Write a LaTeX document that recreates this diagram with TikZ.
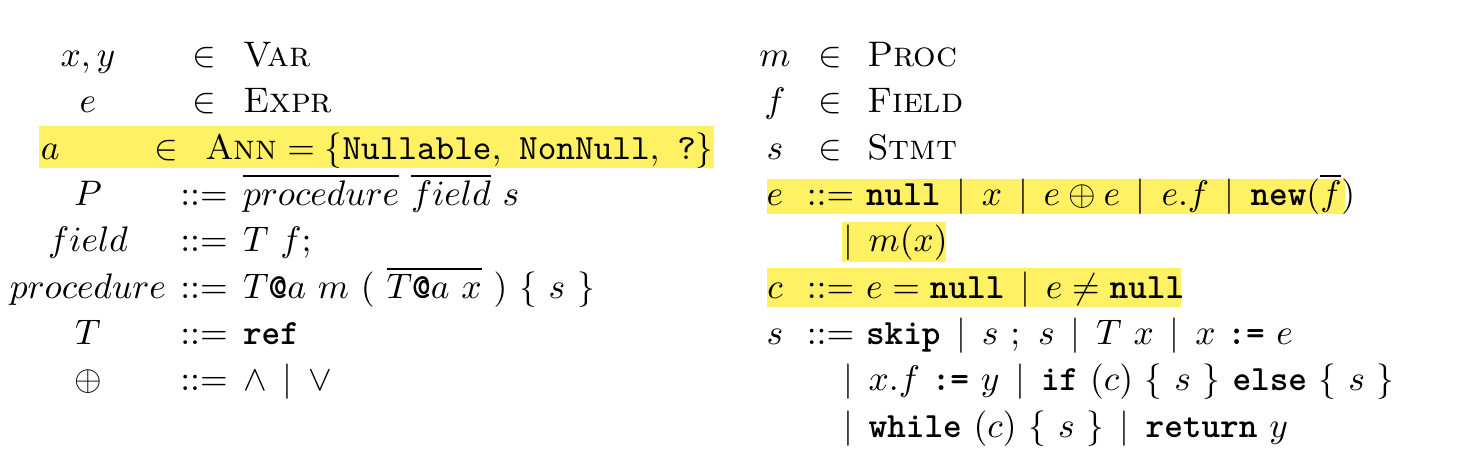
\documentclass[tikz,border=0pt]{standalone}
\newcommand{\bor}{\,\mid\,}
\newcommand{\kw}[1]{\texttt{\bfseries #1}}
\definecolor{hl}{RGB}{255,240,100}
\tikzset{
  lft/.style={inner sep=0pt, outer sep=0pt, anchor=base west},
  ctr/.style={inner sep=0pt, outer sep=0pt, anchor=base},
  hlbox/.style={fill=hl, draw=none}
}
\begin{document}
\begin{tikzpicture}[x=0.2817pt,y=-0.2817pt]
\useasboundingbox (0,0) rectangle (1467,469);
% highlight boxes
\fill[hlbox] (39,126) rectangle (714,168.3);
\fill[hlbox] (767,179.3) rectangle (1345,214.3);
\fill[hlbox] (842.3,221.7) rectangle (946,261.7);
\fill[hlbox] (767,268.3) rectangle (1181,306.7);
% left block
\node[ctr] (l1a) at (88,66.6) {$x, y$};
\node[ctr] (l1b) at (204,66.6) {$\in$};
\node[lft] (l1c) at (243,66.6) {\textsc{Var}};
\node[ctr] (l2a) at (88,112.9) {$e$};
\node[ctr] (l2b) at (204,112.9) {$\in$};
\node[lft] (l2c) at (243,112.9) {\textsc{Expr}};
\node[lft] (l3a) at (41,159.2) {$a$};
\node[ctr] (l3b) at (166,159.2) {$\in$};
\node[lft] (l3c) at (205,159.2) {$\textsc{Ann} = \{\texttt{Nullable},\ \texttt{NonNull},\ \texttt{?}\}$};
\node[ctr] (l4a) at (88,205.5) {$P$};
\node[ctr] (l4b) at (204,205.5) {$::=$};
\node[lft] (l4c) at (243,205.5) {$\overline{procedure}\ \overline{field}\ s$};
\node[ctr] (l5a) at (88,251.8) {$field$};
\node[ctr] (l5b) at (204,251.8) {$::=$};
\node[lft] (l5c) at (243,251.8) {$T\ f;$};
\node[ctr] (l6a) at (88,298.1) {$procedure$};
\node[ctr] (l6b) at (204,298.1) {$::=$};
\node[lft] (l6c) at (243,298.1) {$T\kw{@}a\ m\ (\ \overline{T\kw{@}a\ x}\ )\ \{\ s\ \}$};
\node[ctr] (l7a) at (88,344.4) {$T$};
\node[ctr] (l7b) at (204,344.4) {$::=$};
\node[lft] (l7c) at (243,344.4) {\kw{ref}};
\node[ctr] (l8a) at (88,390.7) {$\oplus$};
\node[ctr] (l8b) at (204,390.7) {$::=$};
\node[lft] (l8c) at (243,390.7) {$\wedge \bor \vee$};
% right block
\node[ctr] (r1a) at (775,66.6) {$m$};
\node[ctr] (r1b) at (830.5,66.6) {$\in$};
\node[lft] (r1c) at (867,66.6) {\textsc{Proc}};
\node[ctr] (r2a) at (775,112.9) {$f$};
\node[ctr] (r2b) at (830.5,112.9) {$\in$};
\node[lft] (r2c) at (867,112.9) {\textsc{Field}};
\node[ctr] (r3a) at (775,159.2) {$s$};
\node[ctr] (r3b) at (830.5,159.2) {$\in$};
\node[lft] (r3c) at (867,159.2) {\textsc{Stmt}};
\node[ctr] (r4a) at (775,205.5) {$e$};
\node[ctr] (r4b) at (830.5,205.5) {$::=$};
\node[lft] (r4c) at (866,205.5) {$\kw{null} \bor x \bor e \oplus e \bor e.f \bor \kw{new}(\overline{f})$};
\node[lft] (r5c) at (843,251.8) {$\mid\, m(x)$};
\node[ctr] (r6a) at (775,298.1) {$c$};
\node[ctr] (r6b) at (830.5,298.1) {$::=$};
\node[lft] (r6c) at (866,298.1) {$e = \kw{null} \bor e \neq \kw{null}$};
\node[ctr] (r7a) at (775,344.4) {$s$};
\node[ctr] (r7b) at (830.5,344.4) {$::=$};
\node[lft] (r7c) at (866,344.4) {$\kw{skip} \bor s\ ;\ s \bor T\ x \bor x\ \kw{:=}\ e$};
\node[lft] (r8c) at (843,390.7) {$\mid\, x.f\ \kw{:=}\ y \bor \kw{if}\ (c)\ \{\ s\ \}\ \kw{else}\ \{\ s\ \}$};
\node[lft] (r9c) at (843,437) {$\mid\, \kw{while}\ (c)\ \{\ s\ \} \bor \kw{return}\ y$};
\end{tikzpicture}
\end{document}
